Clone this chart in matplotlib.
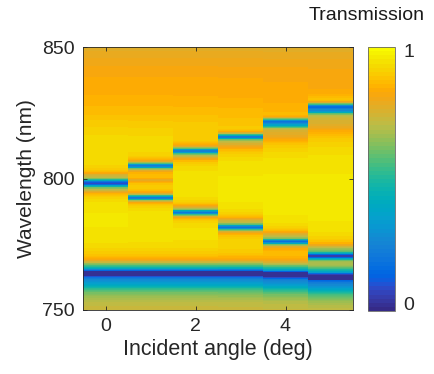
import matplotlib
matplotlib.use('Agg')
import matplotlib.pyplot as plt
import numpy as np
from matplotlib.colors import ListedColormap, rgb_to_hsv, hsv_to_rgb

plt.rcParams['font.family'] = ['Liberation Sans', 'DejaVu Sans']

# --- parula colormap (MATLAB) ---
parula_data = [
    [0.2081, 0.1663, 0.5292], [0.2116, 0.1898, 0.5777], [0.2123, 0.2138, 0.6270],
    [0.2081, 0.2386, 0.6771], [0.1959, 0.2645, 0.7279], [0.1707, 0.2919, 0.7792],
    [0.1253, 0.3242, 0.8303], [0.0591, 0.3598, 0.8683], [0.0117, 0.3875, 0.8820],
    [0.0060, 0.4086, 0.8828], [0.0165, 0.4266, 0.8786], [0.0329, 0.4430, 0.8720],
    [0.0498, 0.4586, 0.8641], [0.0629, 0.4737, 0.8554], [0.0723, 0.4887, 0.8467],
    [0.0779, 0.5040, 0.8384], [0.0793, 0.5200, 0.8312], [0.0749, 0.5375, 0.8263],
    [0.0641, 0.5570, 0.8240], [0.0488, 0.5772, 0.8228], [0.0343, 0.5966, 0.8199],
    [0.0265, 0.6137, 0.8135], [0.0239, 0.6287, 0.8038], [0.0231, 0.6418, 0.7913],
    [0.0228, 0.6535, 0.7768], [0.0267, 0.6642, 0.7607], [0.0384, 0.6743, 0.7436],
    [0.0590, 0.6838, 0.7254], [0.0843, 0.6928, 0.7062], [0.1133, 0.7015, 0.6859],
    [0.1453, 0.7098, 0.6646], [0.1801, 0.7177, 0.6424], [0.2178, 0.7250, 0.6193],
    [0.2586, 0.7317, 0.5954], [0.3022, 0.7376, 0.5712], [0.3482, 0.7424, 0.5473],
    [0.3953, 0.7459, 0.5244], [0.4420, 0.7481, 0.5033], [0.4871, 0.7491, 0.4840],
    [0.5300, 0.7491, 0.4661], [0.5709, 0.7485, 0.4494], [0.6099, 0.7473, 0.4337],
    [0.6473, 0.7456, 0.4188], [0.6834, 0.7435, 0.4044], [0.7184, 0.7411, 0.3905],
    [0.7525, 0.7384, 0.3768], [0.7858, 0.7356, 0.3633], [0.8185, 0.7327, 0.3498],
    [0.8507, 0.7299, 0.3360], [0.8824, 0.7274, 0.3217], [0.9139, 0.7258, 0.3063],
    [0.9450, 0.7261, 0.2886], [0.9739, 0.7314, 0.2666], [0.9938, 0.7455, 0.2403],
    [0.9990, 0.7653, 0.2164], [0.9955, 0.7861, 0.1967], [0.9880, 0.8066, 0.1794],
    [0.9789, 0.8271, 0.1633], [0.9697, 0.8481, 0.1475], [0.9626, 0.8705, 0.1309],
    [0.9589, 0.8949, 0.1132], [0.9598, 0.9218, 0.0948], [0.9661, 0.9514, 0.0755],
    [0.9763, 0.9831, 0.0538]]

# the reference figure is a bit more saturated than plain parula
hsv = rgb_to_hsv(np.array(parula_data))
pos = np.linspace(0, 1, len(parula_data))
hsv[:, 1] = np.clip(hsv[:, 1] * (1 + 0.3 * np.clip((pos - 0.35) / 0.3, 0, 1)), 0, 1)
parula = ListedColormap(hsv_to_rgb(hsv), name='parula_sat')

angles = [0, 1, 2, 3, 4, 5]

# background transmission (nm, T)
bg_nm = [750, 755, 760, 765, 770, 775, 790, 800, 808, 815, 820, 825, 830, 835, 840, 845, 850]
bg_T = [0.78, 0.80, 0.88, 0.95, 0.98, 0.99, 0.99, 0.98, 0.97, 0.95, 0.92, 0.885, 0.86, 0.845, 0.835, 0.81, 0.78]

# resonance centres per angle (nm)
upper_dip = [798.2, 804.8, 810.5, 815.9, 821.6, 827.3]
lower_dip = [None, 792.7, 787.1, 781.4, 775.9, 770.5]
low_band = [764.0, 764.0, 764.0, 764.0, 763.5, 762.6]

# line features per angle: (centre nm, half width nm, amplitude)
features = [
    # angle 0
    [(798.2, 1.3, -0.92), (801.4, 0.9, -0.08), (795.3, 0.9, -0.08)],
    # angle 1
    [(804.8, 0.95, -0.78), (792.7, 0.95, -0.78), (799.3, 1.0, -0.14)],
    # angle 2
    [(810.5, 0.95, -0.75), (808.2, 1.5, -0.10), (787.1, 0.95, -0.78), (789.4, 1.2, -0.06)],
    # angle 3
    [(815.9, 0.95, -0.72), (812.9, 2.0, -0.12), (818.4, 1.5, 0.06),
     (781.4, 0.95, -0.78), (784.0, 1.5, -0.13)],
    # angle 4
    [(821.6, 0.95, -0.70), (820.1, 0.7, -0.30), (816.5, 3.0, -0.12), (823.9, 1.5, 0.09),
     (775.9, 0.95, -0.78), (778.5, 1.5, -0.13)],
    # angle 5
    [(827.3, 0.95, -0.68), (825.7, 0.8, -0.40), (821.0, 4.0, -0.12), (829.9, 1.5, 0.14),
     (770.5, 1.1, -0.90), (773.4, 1.5, -0.15)],
]
# low band shape relative to its centre: (offset nm, half width nm, amplitude)
low_shape = [(0.0, 1.4, -0.95), (-3.5, 3.3, -0.45), (2.9, 1.2, -0.12)]

# --- build map ---
wl = np.arange(750, 850.01, 0.25)
T = np.zeros((len(wl), len(angles)))
for j in range(len(angles)):
    col = np.interp(wl, bg_nm, bg_T)
    feats = list(features[j]) + [(low_band[j] + o, w, a) for o, w, a in low_shape]
    for c, w, a in feats:
        col = col + a * w**2 / ((wl - c)**2 + w**2)
    T[:, j] = np.clip(col, 0, 1)

# --- plot ---
fig = plt.figure(figsize=(4.34, 3.74), dpi=100)
ax = fig.add_axes([83/434, 1-310/374, 270/434, 263/374])
im = ax.imshow(T, extent=[-0.5, 5.5, 750, 850], origin='lower', aspect='auto',
               interpolation='nearest', cmap=parula, vmin=-0.03, vmax=1.015)

ax.set_xticks([0, 2, 4])
ax.set_yticks([750, 800, 850])
ax.tick_params(direction='in', top=True, right=True, length=3, width=0.6,
               labelsize=14, colors='0.15', pad=6)
for s in ax.spines.values():
    s.set_color('0.15')
    s.set_linewidth(0.6)
ax.set_xlabel('Incident angle (deg)', fontsize=15.5, color='0.15', labelpad=3)
ax.set_ylabel('Wavelength (nm)', fontsize=15, color='0.15', labelpad=4)

cax = fig.add_axes([368/434, 1-311/374, 27/434, 264/374])
cb = fig.colorbar(im, cax=cax, ticks=[0, 1])
cb.ax.tick_params(length=0, labelsize=14, colors='0.15', pad=6)
cb.outline.set_edgecolor('0.4')
cb.outline.set_linewidth(0.6)
fig.text(367/434, 1-16/374, 'Transmission', ha='center', va='center', fontsize=14, color='0.1')

fig.savefig('out.png', dpi=100)
